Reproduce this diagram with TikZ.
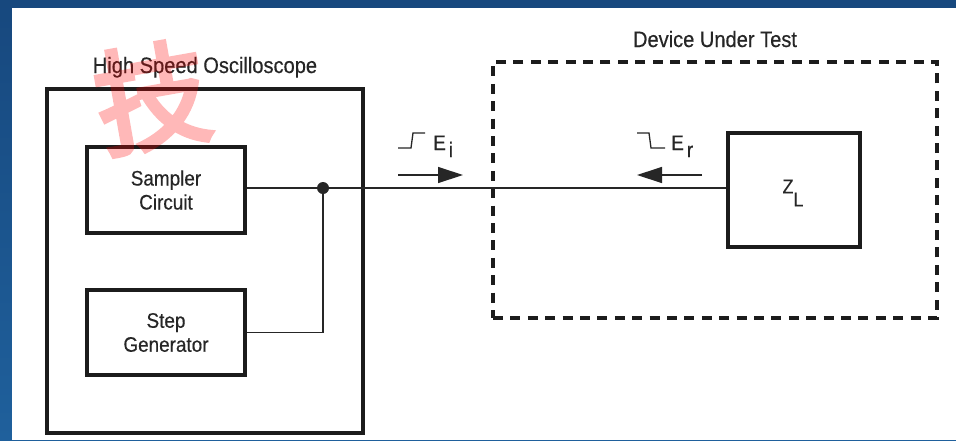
\documentclass[tikz,border=0pt]{standalone}
\usepackage{fontspec}
\setmainfont{Liberation Sans}[FakeStretch=0.9, FakeBold=0.4]
\newfontfamily\cjkfont{Noto Sans CJK SC}[FakeBold=4]
\usetikzlibrary{arrows.meta}
\definecolor{bgtop}{HTML}{17487E}
\definecolor{bgbot}{HTML}{1F609C}
\definecolor{ink}{HTML}{262626}
\definecolor{boxline}{HTML}{1C1C1C}
\tikzset{
  lbl/.style={text=ink, font=\fontsize{21}{24}\selectfont, inner sep=0pt},
  toplbl/.style={text=ink, font=\fontsize{22.3}{24}\selectfont, inner sep=0pt},
  solidbox/.style={draw=boxline, line width=3.6pt, fill=white, inner sep=0pt, align=center,
    text=ink, font=\fontsize{21}{24}\selectfont},
  dutbox/.style={draw=boxline, line width=3.8pt, dash pattern=on 10pt off 7.4pt, inner sep=0pt},
  wire/.style={draw=ink, line width=1.3pt},
  arr/.style={draw=ink, line width=1.3pt, -{Triangle[length=25pt,width=16pt]}},
  stepsym/.style={draw=ink, line width=1.3pt},
}
\begin{document}
\begin{tikzpicture}[x=1pt,y=-1pt]
\useasboundingbox (0,0) rectangle (956,440);
% slide background
\shade[top color=bgtop, bottom color=bgbot] (0,0) rectangle (956,440);
\fill[white] (12,8) rectangle (956,440);
% oscilloscope
\node[solidbox, minimum width=316pt, minimum height=344pt] (osc) at (205,261) {};
\node[toplbl, anchor=base] (osclbl) at (205,73) {High Speed Oscilloscope};
\node[solidbox, minimum width=158pt, minimum height=86pt] (samp) at (166,190) {Sampler\\Circuit};
\node[solidbox, minimum width=158pt, minimum height=85pt] (stepgen) at (166,332.5) {Step\\Generator};
% device under test
\node[dutbox, minimum width=444pt, minimum height=256pt] (dut) at (715,190) {};
\node[toplbl, anchor=base] (dutlbl) at (715,47) {Device Under Test};
\node[solidbox, minimum width=132pt, minimum height=114pt] (zl) at (794,190) {};
\node[lbl, font=\fontsize{20}{24}\selectfont] (zltxt) at (793,193) {Z\raisebox{-13pt}{L}};
% wiring
\coordinate (j) at (323,188);
\draw[wire] (samp.east |- j) -- (j) -- (zl.west |- j);
\draw[wire] (j) -- (j |- stepgen.east) -- (stepgen.east);
\fill[ink] (j) circle (6pt);
% incident step
\coordinate (ia) at (398,175);
\coordinate (ib) at (463,175);
\draw[arr] (ia) -- (ib);
\coordinate (is1) at (398,148);
\coordinate (is2) at (411,148);
\coordinate (is3) at (413,133);
\coordinate (is4) at (425,133);
\draw[stepsym] (is1) -- (is2) -- (is3) -- (is4);
\node[lbl, anchor=base west] (ei) at (433,150) {E\hspace{3pt}\raisebox{-7pt}{i}};
% reflected step
\coordinate (ra) at (702,175);
\coordinate (rb) at (637,175);
\draw[arr] (ra) -- (rb);
\coordinate (rs1) at (637,133);
\coordinate (rs2) at (649,133);
\coordinate (rs3) at (651,148);
\coordinate (rs4) at (665,148);
\draw[stepsym] (rs1) -- (rs2) -- (rs3) -- (rs4);
\node[lbl, anchor=base west] (er) at (671,150) {E\hspace{3pt}\raisebox{-7pt}{r}};
% watermark
\begin{scope}[transparency group, opacity=0.28]
\node[text=red, rotate=10, font=\cjkfont\fontsize{114}{114}\selectfont, inner sep=0pt] (wm) at (152,97) {技};
\end{scope}
\end{tikzpicture}
\end{document}
